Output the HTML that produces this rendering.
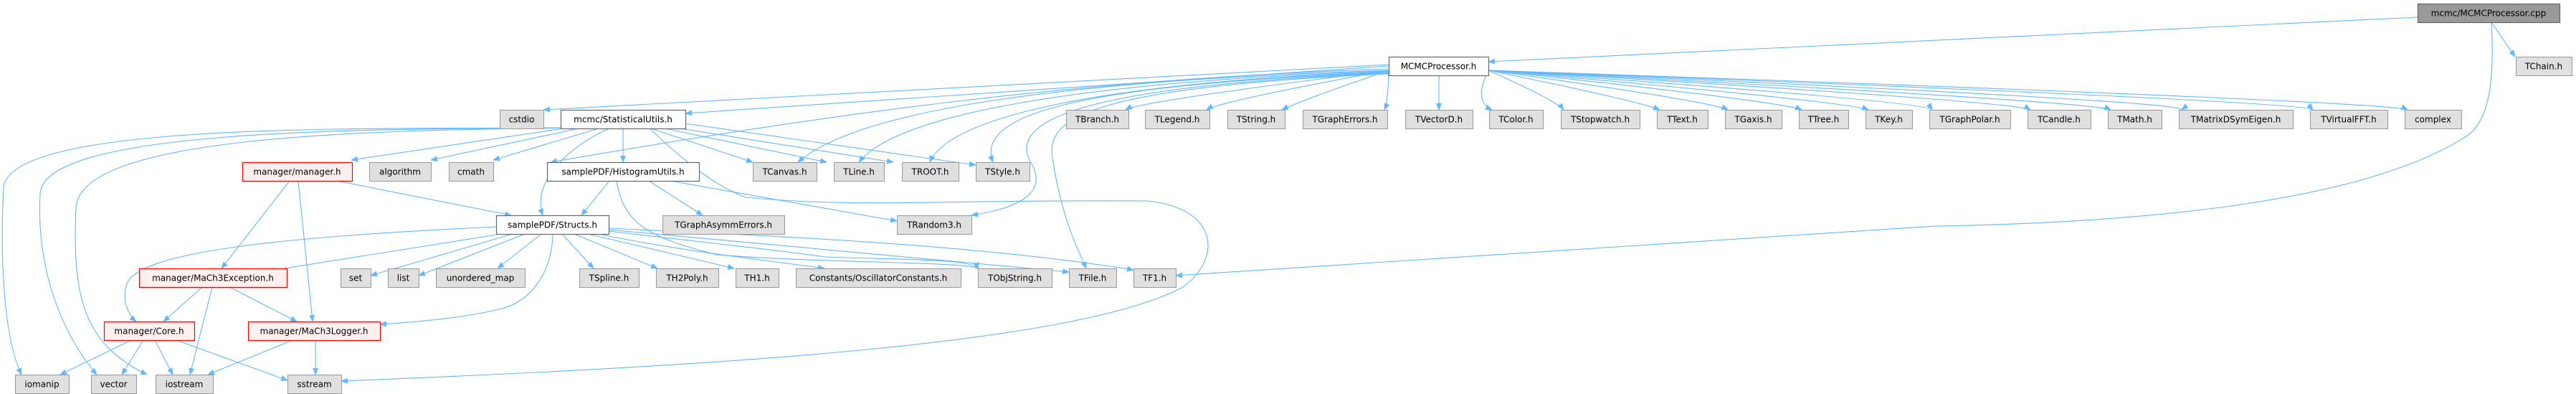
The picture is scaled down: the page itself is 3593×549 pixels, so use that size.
<!DOCTYPE html>
<html><head><meta charset="utf-8"><style>
html,body{margin:0;padding:0;background:#fff;width:3593px;height:549px;overflow:hidden}
svg text{font-family:"DejaVu Sans","Liberation Sans",sans-serif;font-size:12px;fill:#000}
</style></head><body>
<svg id="g" xmlns="http://www.w3.org/2000/svg" width="3593" height="549" viewBox="0 0 3593 549">
<defs><marker id="a" markerWidth="10" markerHeight="8" refX="9" refY="4" orient="auto" markerUnits="userSpaceOnUse"><path d="M0,0 L10,4 L0,8 z" fill="#63b8ff"/></marker></defs>
<g id="ee" fill="none" stroke="#63b8ff" stroke-width="1.1"></g>
<g id="nn"></g>
</svg>
<script>
(function(){
var R=[5,79,153,226,300,374,448,522];
var N={
cpp:[3372,3570,0,'mcmc/MCMCProcessor.cpp','k'],
mp:[1937,2076,1,'MCMCProcessor.h','w'],
tchain:[3509,3587,1,'TChain.h','g'],
cstdio:[697,758,2,'cstdio','g'],
su:[782,956,2,'mcmc/StatisticalUtils.h','w'],
tbranch:[1487,1574,2,'TBranch.h','g'],
tlegend:[1597,1687,2,'TLegend.h','g'],
tstring:[1712,1792,2,'TString.h','g'],
tge:[1817,1935,2,'TGraphErrors.h','g'],
tvec:[1960,2054,2,'TVectorD.h','g'],
tcolor:[2077,2152,2,'TColor.h','g'],
tsw:[2177,2287,2,'TStopwatch.h','g'],
ttext:[2311,2382,2,'TText.h','g'],
tgaxis:[2406,2485,2,'TGaxis.h','g'],
ttree:[2509,2578,2,'TTree.h','g'],
tkey:[2602,2667,2,'TKey.h','g'],
tgp:[2691,2804,2,'TGraphPolar.h','g'],
tcandle:[2828,2916,2,'TCandle.h','g'],
tmath:[2940,3015,2,'TMath.h','g'],
tmds:[3039,3198,2,'TMatrixDSymEigen.h','g'],
tfft:[3222,3330,2,'TVirtualFFT.h','g'],
complex:[3354,3433,2,'complex','g'],
mgr:[338,491,3,'manager/manager.h','r'],
alg:[515,601,3,'algorithm','g'],
cmath:[626,688,3,'cmath','g'],
hu:[763,975,3,'samplePDF/HistogramUtils.h','w'],
tcanvas:[1050,1139,3,'TCanvas.h','g'],
tline:[1163,1233,3,'TLine.h','g'],
troot:[1258,1337,3,'TROOT.h','g'],
tstyle:[1361,1436,3,'TStyle.h','g'],
st:[692,849,4,'samplePDF/Structs.h','w'],
tgae:[924,1094,4,'TGraphAsymmErrors.h','g'],
trand:[1251,1355,4,'TRandom3.h','g'],
exc:[194,400,5,'manager/MaCh3Exception.h','r'],
set:[475,517,5,'set','g'],
list:[541,584,5,'list','g'],
umap:[608,732,5,'unordered_map','g'],
tspl:[808,891,5,'TSpline.h','g'],
th2p:[915,1002,5,'TH2Poly.h','g'],
th1:[1026,1086,5,'TH1.h','g'],
osc:[1110,1340,5,'Constants/OscillatorConstants.h','g'],
tobj:[1364,1467,5,'TObjString.h','g'],
tfile:[1491,1557,5,'TFile.h','g'],
tf1:[1581,1640,5,'TF1.h','g'],
core:[145,271,6,'manager/Core.h','r'],
log:[346,530,6,'manager/MaCh3Logger.h','r'],
iomanip:[21,96,7,'iomanip','g'],
vector:[127,190,7,'vector','g'],
iostream:[217,297,7,'iostream','g'],
sstream:[401,476,7,'sstream','g']
};
var EG=document.getElementById('ee'),NG=document.getElementById('nn'),ns='http://www.w3.org/2000/svg';
function P(d){var p=document.createElementNS(ns,'path');p.setAttribute('d',d);p.setAttribute('marker-end','url(#a)');EG.appendChild(p);}
function cxx(k){return (N[k][0]+N[k][1])/2}
var mp=N.mp,my=R[1]+13;
['tbranch','tlegend','tstring','tge','tvec','tcolor','tsw','ttext','tgaxis','ttree','tkey','tgp','tcandle','tmath','tmds','tfft','complex'].forEach(function(t){
 var tx=cxx(t),sx=Math.max(mp[0]+10,Math.min(mp[1]-10,tx));
 if(tx<mp[0]-20||tx>mp[1]+20){sx=tx<mp[0]?mp[0]:mp[1];P('M'+sx+','+(my+6)+' Q'+(tx<mp[0]?tx+60:tx-60)+','+(R[2]-12)+' '+(tx<mp[0]?N[t][1]-4:N[t][0]+4)+','+R[2]);}
 else P('M'+sx+','+(R[1]+26)+' L'+tx+','+R[2]);});
P('M1937,90 L758,153');
P('M1937,92 L956,158');
P('M1937,96 C1500,110 1150,160 768,226');
P('M1937,98 C1500,112 1200,150 1113,226');
P('M1937,99 C1500,114 1250,160 1198,226');
P('M1937,100 C1500,116 1320,170 1297,226');
P('M1937,101 C1500,118 1360,160 1385,226');
P('M1937,102 C1500,120 1400,170 1440,230 C1460,270 1420,290 1355,300');
P('M1937,103 C1500,122 1460,170 1468,220 C1480,300 1500,340 1515,374');
P('M3372,24 L2076,86');
P('M3475,31 L3508,79');
P('M3475,31 C3480,120 3470,170 3440,190 C3300,280 3000,310 2700,315 C2300,340 1900,370 1640,384');
P('M782,178 C500,180 20,170 5,260 C0,360 5,470 30,522');
P('M785,178 C500,180 60,180 56,270 C50,380 90,470 135,522');
P('M790,178 C500,182 110,190 106,290 C100,420 120,480 205,522');
P('M793,178 L490,223');
P('M812,178 L601,223');
P('M838,178 L688,223');
P('M869,178 L869,226');
P('M852,178 C800,200 740,250 757,300');
P('M905,178 L1050,226');
P('M922,178 L1153,226');
P('M942,178 L1246,226');
P('M955,172 L1361,230');
P('M905,178 C960,230 1000,260 1040,275 C1200,290 1300,278 1600,280 C1700,290 1705,360 1650,400 C1500,480 1000,510 476,531');
P('M850,252 L811,300');
P('M905,252 L980,300');
P('M935,252 L1251,308');
P('M860,252 C870,310 900,330 1000,355 C1200,370 1400,362 1364,381');
P('M404,252 L309,374');
P('M416,252 L436,448');
P('M470,252 L713,300');
P('M692,316 C400,330 180,350 176,400 C170,420 180,440 190,448');
P('M699,326 L372,378');
P('M715,326 L517,384');
P('M732,326 L584,384');
P('M755,326 L694,374');
P('M784,326 L828,374');
P('M771,326 C770,380 740,420 700,430 C640,445 560,450 530,452');
P('M801,326 L917,374');
P('M820,326 L1024,374');
P('M835,326 C950,350 1050,360 1150,374');
P('M849,322 C1000,340 1100,350 1150,358 C1250,362 1360,360 1364,375');
P('M849,320 L1491,379');
P('M849,318 C1100,330 1350,340 1581,376');
P('M282,400 L228,448');
P('M296,400 L265,522');
P('M320,400 L414,448');
P('M183,474 L84,522');
P('M200,474 L170,522');
P('M216,474 L241,522');
P('M246,474 L401,530');
P('M408,474 L290,522');
P('M440,474 L440,522');
var FC={g:'#e0e0e0',w:'#ffffff',r:'#fff0f0',k:'#999999'},SC={g:'#999999',w:'#666666',r:'#ff0000',k:'#666666'};
Object.keys(N).forEach(function(k){var n=N[k],y=R[n[2]],w=n[1]-n[0];
 var r=document.createElementNS(ns,'rect');r.setAttribute('x',n[0]+0.5);r.setAttribute('y',y+0.5);r.setAttribute('width',w);r.setAttribute('height',26);
 r.setAttribute('fill',FC[n[4]]);r.setAttribute('stroke',SC[n[4]]);r.setAttribute('stroke-width',n[4]=='g'?1:1.2);NG.appendChild(r);
 var t=document.createElementNS(ns,'text');t.setAttribute('x',n[0]+w/2);t.setAttribute('y',y+17.5);t.setAttribute('text-anchor','middle');t.textContent=n[3];NG.appendChild(t);});
})();
</script>
</body></html>
